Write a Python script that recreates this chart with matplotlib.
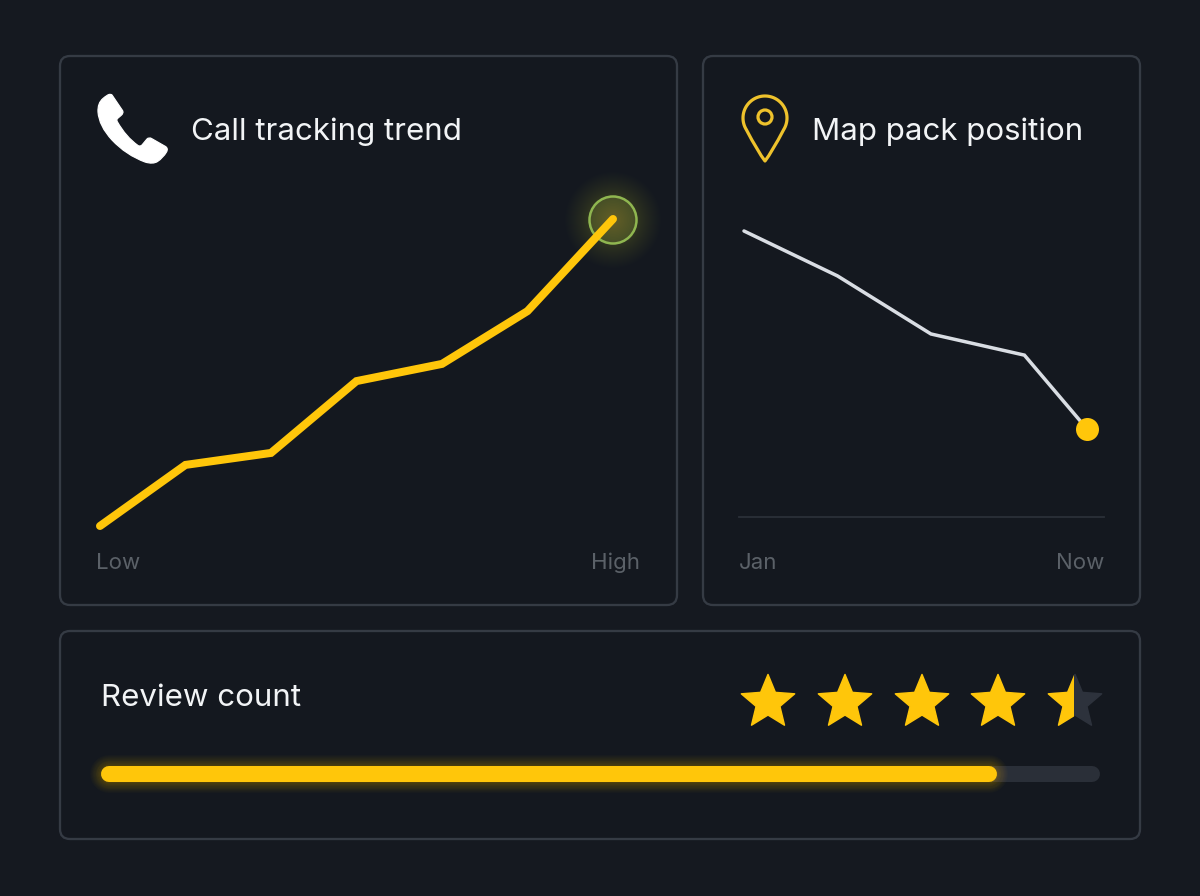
import numpy as np
import matplotlib
matplotlib.use("Agg")
import matplotlib.pyplot as plt
from matplotlib.patches import FancyBboxPatch, Circle, PathPatch, Polygon, Rectangle
from matplotlib.path import Path

W, H = 1200, 896
BG = "#151920"
PANEL = "#14181f"
BORDER = "#353b44"
YELLOW = "#ffc60a"
MUTED = "#5b6168"
FG = "#f2f4f6"

trend_x = [0, 1, 2, 3, 4, 5, 6]
trend_y = [0, 19.9, 23.8, 47.2, 52.8, 70, 100]
map_x = [0, 1, 2, 3, 3.67]
map_y = [100, 84.3, 64, 56.6, 30.8]
review_pct = 89.5
rating = 4.5
titles = ["Call tracking trend", "Map pack position", "Review count"]
trend_ticks = ["Low", "High"]
map_ticks = ["Jan", "Now"]

plt.rcParams["font.family"] = ["Inter", "DejaVu Sans"]
PX = 72 / 100
fig = plt.figure(figsize=(W / 100, H / 100), dpi=100, facecolor=BG)

bg = fig.add_axes([0, 0, 1, 1], zorder=0)
bg.set_xlim(0, W)
bg.set_ylim(H, 0)
bg.axis("off")


def axes_px(x0, y0, x1, y1, z=2):
    a = fig.add_axes([x0 / W, 1 - y1 / H, (x1 - x0) / W, (y1 - y0) / H], zorder=z)
    a.patch.set_alpha(0)
    a.axis("off")
    return a


for x0, y0, x1, y1 in [(60, 56, 677, 605), (703, 56, 1140, 605), (60, 631, 1140, 839)]:
    bg.add_patch(FancyBboxPatch((x0 + 10, y0 + 10), x1 - x0 - 20, y1 - y0 - 20,
                                boxstyle="round,pad=10,rounding_size=10",
                                fc=PANEL, ec=BORDER, lw=2.3 * PX))

# phone icon
M, L, C = Path.MOVETO, Path.LINETO, Path.CURVE3
phone = [(M, (112, 95)), (L, (122.5, 110.5)), (C, (124, 113)), (C, (121, 115.5)),
         (L, (117.5, 118.5)), (C, (116, 120)), (C, (117.5, 122)), (C, (126, 137)), (C, (138, 145.5)),
         (C, (140, 147)), (C, (142, 145)), (L, (147, 139)), (C, (149, 137)), (C, (151.5, 138.5)),
         (L, (165.5, 146.5)), (C, (168.5, 148.5)), (C, (166.5, 152)), (C, (163, 158)), (C, (157.5, 161.5)),
         (C, (153, 164.5)), (C, (145, 162)), (C, (126, 155)), (C, (112, 140)), (C, (99, 126)), (C, (98, 112)),
         (C, (97.5, 103)), (C, (103, 98.5)), (C, (107, 95)), (C, (109, 94.5)), (C, (111, 94)), (C, (112, 95)),
         (Path.CLOSEPOLY, (112, 95))]
bg.add_patch(PathPatch(Path([p for _, p in phone], [c for c, _ in phone]),
                       fc="#ffffff", ec="#ffffff", lw=1.2 * PX, joinstyle="round"))

# pin icon
cx, cy, r = 765, 118, 22
th = np.radians(np.linspace(-32, 212, 70))
arc = [(cx + r * np.cos(t), cy - r * np.sin(t)) for t in th]
verts = [(765, 161), (772, 152), arc[0]] + arc[1:] + [(758, 152), (765, 161), (765, 161)]
codes = [M, C, C] + [L] * (len(arc) - 1) + [C, C, Path.CLOSEPOLY]
bg.add_patch(PathPatch(Path(verts, codes), fc="none", ec="#eec22c", lw=3.2 * PX, joinstyle="round"))
bg.add_patch(Circle((765, 117), 7, fc="none", ec="#eec22c", lw=3.2 * PX))

# titles
bg.text(191, 131.5, titles[0], color=FG, fontsize=22.5, va="center", ha="left")
bg.text(812, 131.5, titles[1], color=FG, fontsize=22.5, va="center", ha="left")
bg.text(101, 698.5, titles[2], color=FG, fontsize=22.5, va="center", ha="left")

# tick labels
bg.text(96, 563, trend_ticks[0], color=MUTED, fontsize=16, va="center", ha="left")
bg.text(640, 563, trend_ticks[1], color=MUTED, fontsize=16, va="center", ha="right")
bg.text(739, 563, map_ticks[0], color=MUTED, fontsize=16, va="center", ha="left")
bg.text(1104, 563, map_ticks[1], color=MUTED, fontsize=16, va="center", ha="right")

# glow of trend endpoint
gx, gy = 613, 220
for t in np.linspace(1, 0, 30):
    bg.add_patch(Circle((gx, gy), 24 + 24 * t ** 1.3, fc="#8fb32a", ec="none", alpha=0.013))
bg.add_patch(Circle((gx, gy), 24, fc="#6c7a35", ec="none", alpha=0.35))
for t in np.linspace(1, 0, 14):
    bg.add_patch(Circle((gx, gy), 2 + 20 * t, fc="#b5a526", ec="none", alpha=0.025))
bg.add_patch(Circle((gx, gy), 23.5, fc="none", ec="#8fb650", lw=2.5 * PX))

# trend chart
ax1 = axes_px(100, 219, 613, 526)
ax1.set_xlim(0, 6)
ax1.set_ylim(0, 100)
ax1.plot(trend_x, trend_y, color=YELLOW, lw=8 * PX, solid_capstyle="round",
         solid_joinstyle="miter", clip_on=False)

# map chart
ax2 = axes_px(744, 231, 1087, 517)
ax2.set_xlim(0, 3.67)
ax2.set_ylim(0, 100)
ax2.plot(map_x, map_y, color="#d9dde3", lw=3.5 * PX,
         solid_capstyle="round", solid_joinstyle="miter", clip_on=False)
ax2.plot(map_x[-1], map_y[-1], "o", color=YELLOW, ms=23 * PX, mew=0, clip_on=False)
bg.plot([739, 1104], [517, 517], color="#2b3038", lw=1.8 * PX)

# stars
star_cx = [768, 845, 922, 998, 1075]
star_cy = 702.5
Ro, Ri = 28, 12.5
ang = np.radians(90 + 36 * np.arange(10))
for i, sx in enumerate(star_cx):
    rr = np.where(np.arange(10) % 2 == 0, Ro, Ri)
    poly = np.c_[sx + rr * np.cos(ang), star_cy - rr * np.sin(ang)]
    frac = np.clip(rating - i, 0, 1)
    if frac < 1:
        bg.add_patch(Polygon(poly, closed=True, fc="#2d323c", ec="#2d323c", lw=1.5 * PX, joinstyle="round"))
    p = Polygon(poly, closed=True, fc=YELLOW, ec=YELLOW, lw=1.5 * PX, joinstyle="round")
    bg.add_patch(p)
    if frac < 1:
        p.set_clip_path(Rectangle((sx - Ro - 2, star_cy - Ro - 2), (Ro + 2) * (2 * frac) - 1, 2 * Ro + 4,
                                  transform=bg.transData))

# progress bar
ax3 = axes_px(109, 766, 1092, 782)
ax3.set_xlim(0, 100)
ax3.set_ylim(-1, 1)
ax3.plot([0, 100], [0, 0], color="#2a2f38", lw=16 * PX, solid_capstyle="round", clip_on=False)
for t in np.linspace(1, 0, 20):
    ax3.plot([0, review_pct], [0, 0], color=YELLOW, lw=(16 + 22 * t ** 1.8) * PX, alpha=0.02,
             solid_capstyle="round", clip_on=False)
ax3.plot([0, review_pct], [0, 0], color=YELLOW, lw=16 * PX, solid_capstyle="round", clip_on=False)

fig.savefig("out.png", dpi=100, facecolor=BG)
